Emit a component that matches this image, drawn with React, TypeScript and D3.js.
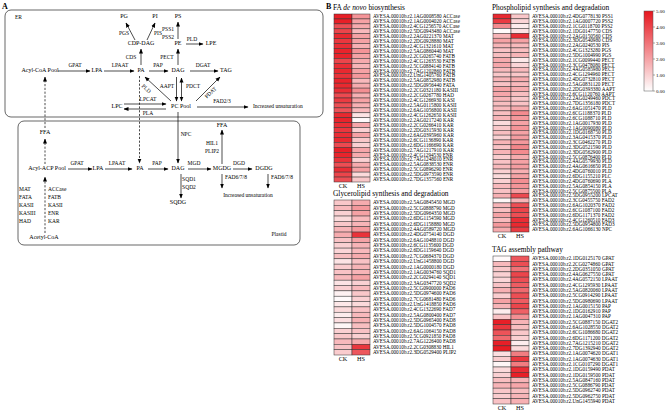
import React from 'react';
import * as d3 from 'd3';

// ---- heatmap data (log2 FPKM-like, 0..5) ----
const PREFIX = 'AVESA.00010b.r2.';

const faGenes = [
  '1AG0008580 ACCase', '1AG0004020 ACCase', '4CG1256570 ACCase', '5DG0943480 ACCase',
  '2AG0221370 MAT', '2DG0928880 MAT', '4CG1321610 MAT', '5AG0860440 MAT',
  '2CG0265740 FATB', '4CG1263530 FATB', '5CG0884140 FATB', '7AG1202860 FATB',
  'UnG1405760 FATB', '5AG0852980 FATB', '5DG0956440 FATA', '2CG0321180 KASIII',
  '2CG0267780 HAD', '4CG1266930 KASI', '5AG0115800 KASII', '6AG1056800 KASII',
  '4CG1262650 KASII', '2AG0217240 KAR', '2CG0266410 KAR', '2DG0315930 KAR',
  '6AG0395960 KAR', '6CG1136890 KAR', '6DG1166690 KAR', '7AG1217910 KAR',
  '4CG1294530 ENR', '7AG1248010 ENR', '5AG0838530 ENR', '5CG0896290 ENR',
  '5DG0973590 ENR', '7DG1357560 ENR',
];
const faCK = [4.8, 4.8, 3.8, 4.0, 4.6, 4.3, 4.5, 4.7, 4.7, 4.0, 4.5, 4.6, 4.4, 4.7, 4.6, 4.5, 3.9,
  4.2, 3.8, 3.7, 4.6, 4.7, 4.5, 4.3, 4.5, 4.6, 3.9, 4.8, 4.7, 4.4, 3.8, 4.5, 4.0, 3.8];
const faHS = [2.3, 2.0, 1.8, 1.5, 2.0, 2.0, 1.7, 2.3, 2.0, 1.8, 1.6, 2.0, 2.2, 1.5, 1.8, 2.4, 1.7,
  2.0, 1.7, 1.5, 0.6, 0.1, 1.9, 1.0, 2.0, 1.2, 1.0, 1.9, 1.8, 1.0, 1.8, 2.0, 0.8, 1.2];

const glGenes = [
  '5AG0845450 MGD', '5CG0888790 MGD', '5DG0964350 MGD', '6DG1154590 MGD', '6DG1158880 MGD',
  '4AG0589720 MGD', '4DG0754140 DGD', '6AG1048810 DGD', '6CG1135600 DGD', '6DG1159640 DGD',
  '7CG0684370 DGD', 'UnG1458800 DGD', '1AG0000180 DGD', '1AG0034760 SQD1', '2CG0294140 SQD1',
  '3AG0347720 SQD2', '5CG0900000 FAD6', '5DG0974600 FAD6', '7CG0681480 FAD6', 'UnG1418850 FAD6',
  '4CG1322690 FAD7', '5AG0800400 FAD7', '5DG0965400 FAD8', '5DG1004570 FAD8', '6AG1064150 FAD8',
  '5CG0921850 FAD8', '7AG1226400 FAD8', '2CG0308830 HIL1', '3DG0529400 PLIP2',
];
const glCK = [1.2, 1.5, 1.0, 0.8, 1.2, 1.6, 1.8, 1.3, 1.0, 0.9, 1.4, 0.6, 1.1, 1.3, 1.5, 0.6, 1.0,
  0.3, 0.1, 0.5, 0.8, 0.4, 0.7, 0.2, 1.0, 1.2, 1.5, 1.3, 1.1];
const glHS = [1.8, 2.2, 2.0, 1.5, 1.6, 2.2, 4.4, 2.0, 1.6, 1.5, 1.8, 1.3, 1.6, 1.6, 2.0, 1.0, 1.5,
  1.2, 1.0, 0.8, 1.3, 1.5, 1.7, 1.4, 1.3, 1.0, 1.8, 4.3, 3.6];

const plGenes = [
  '4DG0778130 PSS1', '1AG0007720 PSS2', '1CG0118700 PSS2', '1DG0147750 CDS', '2AG0150560 CDS',
  '3DG0540980 CDS', '2AG0240530 PIS', '4CG1323280 PGS', '5DG1004990 PGS', '1CG0099440 PECT',
  '3CG0478080 PECT', '4AG0585980 PECT', '4CG1294960 PECT', '4DG0732810 PECT', '5AG0831120 PECT',
  '2DG0393380 AAPT', '6CG1120760 AAPT', '2AG0249460 PDCT', '7DG1356180 PDCT', '6AG1051470 PLD',
  '6CG1188370 PLD', '6CG1088710 PLD', '1AG0017930 PLD', '1AG0090080 PLD', '1DG0168750 PLD',
  '3AG0415370 PLD', '3CG0462270 PLD', '3DG0521590 PLD', '3DG0562900 PLD', '5CG0876400 PLD',
  '4AG0579930 PLD', '4AG0616650 PLD', '4DG0760010 PLD', '6DG1155210 PLC', '4DG0760690 PLA',
  '5AG0854150 PLA', '5CG0875500 PLA', '5DG0955200 LPCAT', '3CG0455750 FAD2', '6AG1020370 FAD2',
  '6CG1087100 FAD2', '6DG1171370 FAD2', '4CG1260510 FAD3', '5DG0954800 FAD3', '6AG1066130 NPC',
];
const plCK = [4.6, 4.2, 2.5, 0.1, 1.6, 2.0, 1.6, 1.3, 1.4, 1.8, 1.9, 1.5, 1.2, 1.6, 1.3, 2.0, 1.9,
  1.6, 1.4, 1.5, 1.4, 1.6, 0.8, 1.2, 1.4, 1.0, 1.6, 1.3, 1.6, 1.1, 1.3, 1.5, 1.0, 0.8, 1.0, 1.5,
  1.3, 1.7, 0.2, 1.6, 1.4, 2.0, 1.5, 2.2, 1.8];
const plHS = [1.2, 0.9, 0.4, 0.6, 4.5, 2.0, 1.5, 1.4, 1.6, 0.5, 0.9, 1.5, 1.2, 1.8, 1.5, 1.8, 1.4,
  1.2, 1.3, 1.8, 2.5, 2.2, 2.0, 2.3, 2.0, 2.1, 2.2, 2.6, 2.5, 1.8, 2.0, 2.1, 1.7, 2.0, 2.4, 2.3,
  2.1, 3.9, 1.6, 3.8, 4.0, 3.8, 4.5, 4.6, 4.2];

const tagGenes = [
  '1DG0125170 GPAT', '2CG0274860 GPAT', '2DG0351050 GPAT', '4AG0627550 GPAT', '4AG0572150 LPAAT',
  '4CG1295930 LPAAT', '5AG0820060 LPAAT', '5CG0914290 LPAAT', '5DG0980690 LPAAT', '1AG0015150 PAP',
  '1DG0162910 PAP', '1AG0047310 PAP', '5CG0887150 DGAT2', '6AG1028550 DGAT2', '6CG1086680 DGAT2',
  '6DG1171200 DGAT2', '7AG1215210 DGAT2', '7DG1392940 DGAT2', '1AG0074620 DGAT1', '1AG0074630 DGAT1',
  '1CG0107290 DGAT1', '1DG0159490 PDAT', '1DG0159500 PDAT', '5AG0847160 PDAT', '5CG0886790 PDAT',
  '5DG0962740 PDAT', '5DG0962750 PDAT', 'UnG1455940 PDAT',
];
const tagCK = [0.1, 1.5, 1.2, 1.0, 0.9, 1.3, 1.7, 1.1, 2.0, 1.6, 0.4, 1.3, 4.8, 4.3, 3.7, 3.2, 4.8,
  4.9, 0.7, 1.1, 0.2, 0.8, 1.0, 1.4, 1.6, 1.2, 1.1, 1.3];
const tagHS = [3.6, 3.8, 3.0, 4.0, 3.8, 3.5, 3.2, 3.8, 3.5, 4.0, 3.4, 2.4, 1.6, 1.4, 1.2, 1.0, 0.4,
  0.8, 2.8, 4.3, 2.8, 4.5, 4.8, 1.6, 1.9, 1.4, 1.6, 1.7];

const samples = ['CK', 'HS'];
const legendTicks = [0, 1, 2, 3, 4, 5];

const SERIF = '"Liberation Serif", "Times New Roman", serif';
const color = d3.scaleLinear<string>().domain([0, 5]).range(['#ffffff', '#e6161e']).clamp(true);

function Heatmap({ title, genes, ck, hs, x0, y0, y1, labelSize }: any) {
  const rows = d3.scaleBand<number>().domain(d3.range(genes.length)).range([y0, y1]);
  const cols = d3.scaleBand<string>().domain(samples).range([x0, x0 + 36]);
  const vals = [ck, hs];
  return (
    <g>
      <text x={x0 - 1} y={y0 - 4} fontSize={7.4}>{title}</text>
      {samples.map((s, j) =>
        genes.map((g: string, i: number) => (
          <rect key={s + i} x={cols(s)} y={rows(i)} width={cols.bandwidth()} height={rows.bandwidth()}
            fill={color(vals[j][i])} stroke="#333" strokeWidth={0.5} />
        ))
      )}
      {genes.map((g: string, i: number) => (
        <text key={'l' + i} x={x0 + 39} y={(rows(i) as number) + rows.bandwidth() / 2 + 1.7} fontSize={labelSize}>
          {PREFIX + g}
        </text>
      ))}
      {samples.map(s => (
        <text key={'c' + s} x={(cols(s) as number) + cols.bandwidth() / 2} y={y1 + 6} fontSize={6.2} textAnchor="middle">{s}</text>
      ))}
    </g>
  );
}

function Arrow({ x1, y1, x2, y2, dash, both }: any) {
  return (
    <line x1={x1} y1={y1} x2={x2} y2={y2} stroke="#000" strokeWidth={0.7}
      strokeDasharray={dash ? '2.2,1.6' : undefined}
      markerEnd="url(#ah)" markerStart={both ? 'url(#ahs)' : undefined} />
  );
}

function T({ x, y, children, size = 6, anchor = 'middle', rot }: any) {
  return (
    <text x={x} y={y} fontSize={size} textAnchor={anchor} dominantBaseline="middle" fill="#000"
      transform={rot !== undefined ? `rotate(${rot},${x},${y})` : undefined}>{children}</text>
  );
}

function PanelA() {
  return (
    <g>
      <text x={2} y={9} fontSize={8} fontWeight="bold">A</text>
      <rect x={5} y={10} width={318} height={107} rx={6} fill="none" stroke="#000" strokeWidth={0.6} />
      <rect x={18} y={121} width={282} height={124} rx={6} fill="none" stroke="#000" strokeWidth={0.6} />
      <T x={15} y={18} size={5.5} anchor="start">ER</T>
      <T x={279} y={235} size={5.5}>Plastid</T>

      {/* ER row */}
      <T x={40} y={71}>Acyl-CoA Pool</T>
      <Arrow x1={58} y1={71} x2={90} y2={71} /><T x={75} y={66} size={5.5}>GPAT</T>
      <T x={97} y={71}>LPA</T>
      <Arrow x1={104} y1={71} x2={134} y2={71} /><T x={120} y={66} size={5.5}>LPAAT</T>
      <T x={141} y={71}>PA</T>
      <Arrow x1={149} y1={71} x2={168} y2={71} /><T x={158} y={66} size={5.5}>PAP</T>
      <T x={178} y={71}>DAG</T>
      <Arrow x1={190} y1={71} x2={218} y2={71} /><T x={203} y={66} size={5.5}>DGAT</T>
      <T x={226} y={71}>TAG</T>

      <Arrow x1={141} y1={65} x2={141} y2={49} /><T x={131} y={58} size={5.5}>CDS</T>
      <T x={141} y={44}>CDP-DAG</T>
      <Arrow x1={135} y1={40} x2={126} y2={23} /><T x={124} y={34} size={5.5}>PGS</T>
      <T x={124} y={17}>PG</T>
      <Arrow x1={147} y1={40} x2={155} y2={23} /><T x={158} y={34} size={5.5}>PIS</T>
      <T x={155} y={17}>PI</T>
      <Arrow x1={178} y1={65} x2={178} y2={49} /><T x={167} y={58} size={5.5}>PECT</T>
      <T x={178} y={44}>PE</T>
      <Arrow x1={178} y1={39} x2={178} y2={22} />
      <T x={168} y={30} size={5.5}>PSS1</T><T x={168} y={38} size={5.5}>PSS2</T>
      <T x={178} y={17}>PS</T>
      <Arrow x1={186} y1={44} x2={203} y2={44} /><T x={192} y={40} size={5.5}>PLD</T>
      <T x={211} y={44}>LPE</T>

      <T x={181} y={107}>PC Pool</T>
      <T x={117} y={107}>LPC</T>
      <Arrow x1={124} y1={104} x2={166} y2={104} /><T x={148} y={100} size={5.5}>LPCAT</T>
      <Arrow x1={166} y1={109} x2={124} y2={109} /><T x={148} y={113.5} size={5.5}>PLA</T>
      <Arrow x1={171} y1={101} x2={145} y2={77} /><T x={146} y={89} size={5.5} rot={42}>PLD</T>
      <Arrow x1={176.5} y1={77} x2={176.5} y2={101} /><T x={167} y={87} size={5.5}>AAPT</T>
      <Arrow x1={181.5} y1={78} x2={181.5} y2={101} both /><T x={193} y={87} size={5.5}>PDCT</T>
      <Arrow x1={196} y1={101} x2={220} y2={77} /><T x={211} y={93} size={5.5} rot={-44}>PDAT</T>
      <Arrow x1={197} y1={107} x2={248} y2={107} /><T x={222} y={101.5} size={5.5}>FAD2/3</T>
      <T x={253} y={106.5} size={5.5} anchor="start">Increased unsaturation</T>

      {/* cross-compartment links */}
      <Arrow x1={45} y1={128} x2={45} y2={77} dash />
      <T x={45} y={133}>FFA</T>
      <Arrow x1={45} y1={164} x2={45} y2={139} dash />
      <Arrow x1={139.5} y1={76} x2={139.5} y2={163} dash />
      <Arrow x1={178} y1={112} x2={178} y2={163} /><T x={186} y={135} size={5.5}>NPC</T>

      {/* plastid row */}
      <T x={47} y={169}>Acyl-ACP Pool</T>
      <Arrow x1={68} y1={169} x2={92} y2={169} /><T x={77} y={164} size={5.5}>GPAT</T>
      <T x={98} y={169}>LPA</T>
      <Arrow x1={105} y1={169} x2={132} y2={169} /><T x={117} y={164} size={5.5}>LPAAT</T>
      <T x={140} y={169}>PA</T>
      <Arrow x1={148} y1={169} x2={168} y2={169} /><T x={157} y={164} size={5.5}>PAP</T>
      <T x={178} y={169}>DAG</T>
      <Arrow x1={188} y1={169} x2={211} y2={169} /><T x={194} y={164} size={5.5}>MGD</T>
      <T x={222} y={169}>MGDG</T>
      <Arrow x1={233} y1={169} x2={252} y2={169} /><T x={239} y={164} size={5.5}>DGD</T>
      <T x={264} y={169}>DGDG</T>
      <Arrow x1={222} y1={164} x2={222} y2={130} /><T x={222} y={126}>FFA</T>
      <T x={212} y={144} size={5.5}>HIL1</T><T x={212} y={152} size={5.5}>PLIP2</T>
      <Arrow x1={181} y1={174} x2={181} y2={198} />
      <T x={189} y={180} size={5.5}>SQD1</T><T x={189} y={188} size={5.5}>SQD2</T>
      <T x={178} y={203}>SQDG</T>
      <Arrow x1={222} y1={174} x2={222} y2={188} /><T x={225} y={178} size={5.5} anchor="start">FAD6/7/8</T>
      <Arrow x1={268} y1={174} x2={268} y2={188} /><T x={271} y={178} size={5.5} anchor="start">FAD6/7/8</T>
      <T x={248} y={196} size={5.5}>Increased unsaturation</T>

      {[['MAT', 'ACCase'], ['FATA', 'FATB'], ['KASII', 'KASII'], ['KASIII', 'ENR'], ['HAD', 'KAR']].map((p, i) => (
        <g key={i}>
          <T x={19} y={190 + i * 8} size={5.5} anchor="start">{p[0]}</T>
          <T x={48} y={190 + i * 8} size={5.5} anchor="start">{p[1]}</T>
        </g>
      ))}
      <Arrow x1={45} y1={233} x2={45} y2={177} dash />
      <T x={44} y={238}>Acetyl-CoA</T>
    </g>
  );
}

function Legend() {
  const y = d3.scaleLinear().domain([0, 5]).range([91, 11]);
  return (
    <g>
      <rect x={644} y={11} width={9} height={80} fill="url(#lg)" stroke="#555" strokeWidth={0.5} />
      {legendTicks.map(t => (
        <g key={t}>
          <line x1={653} x2={655} y1={y(t)} y2={y(t)} stroke="#555" strokeWidth={0.5} />
          <text x={656} y={y(t) + 1.7} fontSize={5}>{t.toFixed(2)}</text>
        </g>
      ))}
    </g>
  );
}

export default function App() {
  return (
    <svg width={669} height={417} style={{ position: 'absolute', left: 0, top: 0, background: '#fff' }}
      fontFamily={SERIF}>
      <defs>
        <marker id="ah" viewBox="0 0 10 10" refX={9} refY={5} markerWidth={5} markerHeight={5}
          markerUnits="userSpaceOnUse" orient="auto">
          <path d="M0,1L10,5L0,9z" fill="#000" />
        </marker>
        <marker id="ahs" viewBox="0 0 10 10" refX={1} refY={5} markerWidth={5} markerHeight={5}
          markerUnits="userSpaceOnUse" orient="auto">
          <path d="M10,1L0,5L10,9z" fill="#000" />
        </marker>
        <linearGradient id="lg" x1="0" y1="1" x2="0" y2="0">
          <stop offset="0" stopColor={color(0)} />
          <stop offset="1" stopColor={color(5)} />
        </linearGradient>
      </defs>
      <PanelA />
      <text x={326} y={9} fontSize={8} fontWeight="bold">B</text>
      <Heatmap title={<tspan>FA <tspan fontStyle="italic">de novo</tspan> biosynthesis</tspan>}
        genes={faGenes} ck={faCK} hs={faHS} x0={334} y0={14} y1={182} labelSize={5.2} />
      <Heatmap title="Glycerolipid synthesis and degradation"
        genes={glGenes} ck={glCK} hs={glHS} x0={334} y0={200} y1={355} labelSize={5.2} />
      <Heatmap title="Phospholipid synthesis and degradation"
        genes={plGenes} ck={plCK} hs={plHS} x0={493} y0={14} y1={232} labelSize={5.2} />
      <Heatmap title="TAG assembly pathway"
        genes={tagGenes} ck={tagCK} hs={tagHS} x0={493} y0={256} y1={404} labelSize={5.2} />
      <Legend />
    </svg>
  );
}
